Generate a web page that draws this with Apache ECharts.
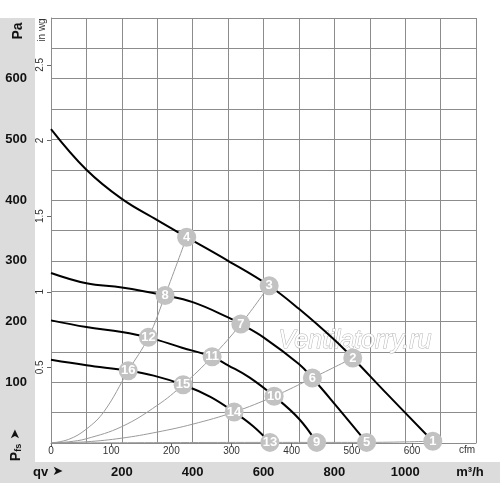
<!DOCTYPE html>
<html><head><meta charset="utf-8">
<script src="https://cdn.jsdelivr.net/npm/echarts@6/dist/echarts.min.js"></script>
<style>html,body{margin:0;padding:0;background:#fff}#c{width:500px;height:483px}</style>
</head><body><div id="c"></div>
<script>
// Fan curves (m³/h, Pa)
var curveA = [[0,517],[100,450],[200,402],[300,367],[383,339],[500,300],[616,259],[700,221],[800,170],[852,140],[950,80],[1078,3]];
var curveB = [[0,280],[100,263],[200,256],[322,243],[400,232],[500,207],[536,196],[600,174],[700,130],[738,107],[800,65],[891,1]];
var curveC = [[0,202],[100,191],[200,183],[275,174],[370,157],[455,142],[500,128],[560,108],[630,77],[700,40],[750,1]];
var curveD = [[0,137],[100,128],[218,119],[290,111],[373,96],[450,76],[517,51],[570,28],[618,1]];
// System curves
var sys1 = [[0,0],[50,6],[100,23],[150,52],[218,119],[275,174],[322,243],[383,339]];
var sys2 = [[0,0],[50,2],[100,7],[200,27],[300,62],[373,96],[455,142],[536,196],[616,259]];
var sys3 = [[0,0],[100,2],[200,8],[300,18],[400,31],[517,51],[630,77],[738,107],[852,140]];
var sys4 = [[0,0],[618,1],[750,1],[891,1],[1078,3]];
// Numbered operating points
var pointLabels = ['1','2','3','4','5','6','7','8','9','10','11','12','13','14','15','16'];
var pointX = [1078,852,616,383,891,738,536,322,750,630,455,275,618,517,373,218];
var pointY = [3,140,259,339,1,107,196,243,1,77,142,174,1,51,96,119];
// Axis ticks
var paTicks = [100,200,300,400,500,600];
var m3hTicks = [200,400,600,800,1000];
var cfmTicks = [0,100,200,300,400,500,600];
var inwgTicks = [0.5,1,1.5,2,2.5];

var chart = echarts.init(document.getElementById('c'), null, {renderer:'canvas'});
var F = 'Liberation Sans, Arial, sans-serif';
var gridCol = '#8c8c8c';
var pts = pointX.map(function(x,i){return {value:[x,pointY[i]], name:pointLabels[i]};});
function lineS(d, sys){
  return {type:'line', data:d, smooth:0.4, symbol:'none', xAxisIndex:0, yAxisIndex:0,
    lineStyle:{color: sys?'#9a9a9a':'#000', width: sys?1:2}, z: sys?2:3, silent:true, animation:false};
}
chart.setOption({
  animation:false,
  grid:{left:51, top:18, right:24, bottom:40},
  xAxis:[
    {type:'value', min:0, max:1200, interval:100, position:'bottom',
     axisLine:{show:true, lineStyle:{color:gridCol}}, axisTick:{show:false},
     splitLine:{show:true, lineStyle:{color:gridCol, width:1}},
     axisLabel:{margin:23, fontFamily:F, fontSize:13, fontWeight:'bold', color:'#111',
       formatter:function(v){return m3hTicks.indexOf(v)>=0? String(v):'';}}},
    {type:'value', min:0, max:1200/1.699, position:'bottom',
     axisLine:{show:false}, splitLine:{show:false},
     axisTick:{show:true, length:4, lineStyle:{color:'#666'}, customValues:cfmTicks},
     axisLabel:{margin:3, fontFamily:F, fontSize:10, color:'#333', customValues:cfmTicks}}
  ],
  yAxis:[
    {type:'value', min:0, max:700, interval:50, position:'left',
     axisLine:{show:true, lineStyle:{color:gridCol}}, axisTick:{show:false},
     splitLine:{show:true, lineStyle:{color:gridCol, width:1}},
     axisLabel:{margin:24, fontFamily:F, fontSize:13, fontWeight:'bold', color:'#111',
       formatter:function(v){return paTicks.indexOf(v)>=0? String(v):'';}}},
    {type:'value', min:0, max:700/249.089, position:'left',
     axisLine:{show:false}, splitLine:{show:false},
     axisTick:{show:true, length:4, lineStyle:{color:'#666'}, customValues:inwgTicks},
     axisLabel:{margin:6, rotate:90, fontFamily:F, fontSize:10, color:'#333', customValues:inwgTicks}}
  ],
  graphic:[
    {type:'rect', z:-10, shape:{x:0,y:18,width:35,height:465}, style:{fill:'#dcdcdc'}},
    {type:'rect', z:-10, shape:{x:0,y:462,width:500,height:21}, style:{fill:'#dcdcdc'}},
    {type:'text', z:5, x:18, y:31, rotation:Math.PI/2, style:{text:'Pa', font:'bold 14px '+F, fill:'#111', align:'center', verticalAlign:'middle'}},
    {type:'text', z:5, x:42, y:30, rotation:Math.PI/2, style:{text:'in wg', font:'10px '+F, fill:'#333', align:'center', verticalAlign:'middle'}},
    {type:'text', z:5, x:16, y:445, rotation:Math.PI/2, style:{text:'{p|P}{s|fs}{a| ➤}', align:'center', verticalAlign:'middle',
      rich:{p:{fontFamily:F, fontSize:14, fontWeight:'bold', fill:'#111'}, s:{fontFamily:F, fontSize:9, fontWeight:'bold', fill:'#111', verticalAlign:'bottom', padding:[6,0,0,0]}, a:{fontFamily:'DejaVu Sans', fontSize:13, fill:'#111'}}}},
    {type:'text', z:5, x:33, y:472, style:{text:'{q|qv}{a| ➤}', align:'left', verticalAlign:'middle',
      rich:{q:{fontFamily:F, fontSize:13, fontWeight:'bold', fill:'#111'}, a:{fontFamily:'DejaVu Sans', fontSize:13, fill:'#111'}}}},
    {type:'text', z:5, x:470, y:472, style:{text:'m³/h', font:'bold 13px '+F, fill:'#111', align:'center', verticalAlign:'middle'}},
    {type:'text', z:5, x:467, y:450, style:{text:'cfm', font:'10px '+F, fill:'#333', align:'center', verticalAlign:'middle'}},
    {type:'text', z:1, x:355, y:341, style:{text:'Ventilatorry.ru', font:'italic 25px '+F, fill:'#ffffff', stroke:'#b4b4b4', lineWidth:1, align:'center', verticalAlign:'middle'}}
  ],
  series:[
    lineS(sys1,true), lineS(sys2,true), lineS(sys3,true), lineS(sys4,true),
    lineS(curveA,false), lineS(curveB,false), lineS(curveC,false), lineS(curveD,false),
    {type:'scatter', data:pts, symbol:'circle', symbolSize:19, z:5, xAxisIndex:0, yAxisIndex:0,
     itemStyle:{color:'#c2c2c2', opacity:1},
     label:{show:true, position:'inside', formatter:function(p){return p.name;}, color:'#fff', fontFamily:F, fontSize:13, fontWeight:'bold'}}
  ]
});
</script></body></html>
